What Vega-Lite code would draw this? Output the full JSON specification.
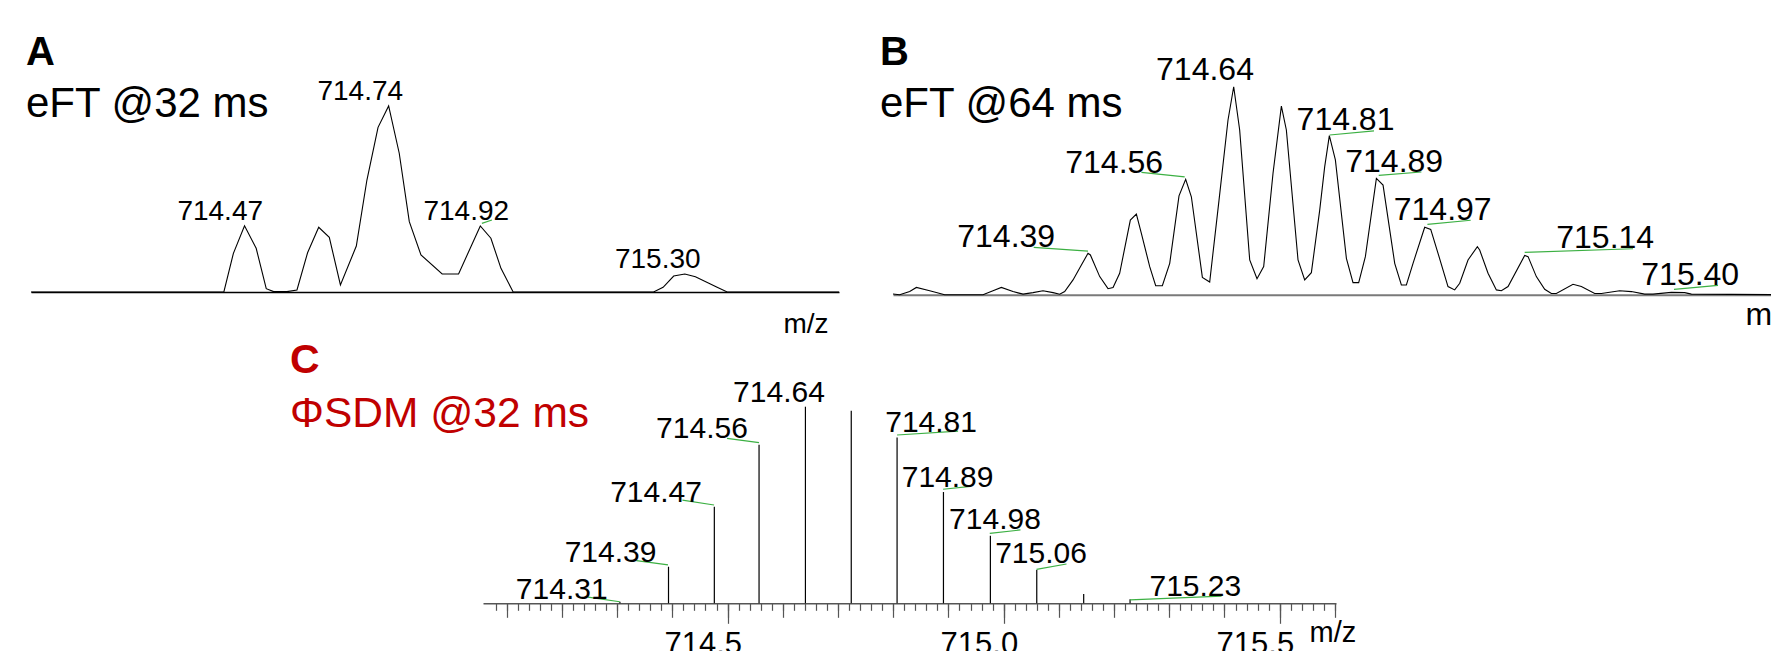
{
  "$schema": "https://vega.github.io/schema/vega-lite/v6.json",
  "background": "white",
  "padding": {"left": 26, "top": 10, "right": 0, "bottom": 0},
  "spacing": 0,
  "config": {"view": {"stroke": null}, "font": "Liberation Sans"},
  "datasets": {
    "a_spec": [
      {"mz": 714.067, "i": 0}, {"mz": 714.431, "i": 0}, {"mz": 714.449, "i": 20.8}, {"mz": 714.470, "i": 35.6},
      {"mz": 714.492, "i": 23.5}, {"mz": 714.511, "i": 1.8}, {"mz": 714.525, "i": 0.2}, {"mz": 714.550, "i": 0.2},
      {"mz": 714.569, "i": 1.1}, {"mz": 714.589, "i": 21.1}, {"mz": 714.610, "i": 34.8}, {"mz": 714.630, "i": 29.4},
      {"mz": 714.651, "i": 3.8}, {"mz": 714.681, "i": 24.7}, {"mz": 714.701, "i": 60.2}, {"mz": 714.722, "i": 88.5},
      {"mz": 714.742, "i": 100}, {"mz": 714.762, "i": 74.6}, {"mz": 714.781, "i": 37.8}, {"mz": 714.803, "i": 19.9},
      {"mz": 714.843, "i": 9.7}, {"mz": 714.874, "i": 9.7}, {"mz": 714.915, "i": 35.5}, {"mz": 714.935, "i": 28.9},
      {"mz": 714.954, "i": 12.7}, {"mz": 714.977, "i": 0}, {"mz": 715.242, "i": 0}, {"mz": 715.260, "i": 2.5},
      {"mz": 715.280, "i": 8.6}, {"mz": 715.301, "i": 9.7}, {"mz": 715.321, "i": 8.2}, {"mz": 715.362, "i": 2.5},
      {"mz": 715.381, "i": 0}, {"mz": 715.592, "i": 0}
    ],
    "a_lab": [
      {"t": "714.47", "mz": 714.4241, "i": 38.7},
      {"t": "714.74", "mz": 714.6884, "i": 103.2},
      {"t": "714.92", "mz": 714.8885, "i": 38.7},
      {"t": "715.30", "mz": 715.2499, "i": 12.7}
    ],
    "a_lead": [
      {"mz": 714.918, "i": 36.9, "mz2": 714.937, "i2": 38.7}
    ],
    "b_spec": [
      {"mz": 714.0526, "i": 0.3}, {"mz": 714.0641, "i": 0}, {"mz": 714.0814, "i": 1.5}, {"mz": 714.0929, "i": 3.5},
      {"mz": 714.1159, "i": 1.9}, {"mz": 714.1417, "i": 0}, {"mz": 714.2078, "i": 0}, {"mz": 714.2250, "i": 1.9},
      {"mz": 714.2394, "i": 3.5}, {"mz": 714.2595, "i": 1.5}, {"mz": 714.2768, "i": 0.3}, {"mz": 714.2940, "i": 1.0},
      {"mz": 714.3112, "i": 1.9}, {"mz": 714.3285, "i": 1.0}, {"mz": 714.3400, "i": 0.2}, {"mz": 714.3486, "i": 1.5},
      {"mz": 714.3630, "i": 7.1}, {"mz": 714.3774, "i": 14.3}, {"mz": 714.3888, "i": 19.9}, {"mz": 714.3929, "i": 19.1},
      {"mz": 714.4090, "i": 8.7}, {"mz": 714.4233, "i": 2.9}, {"mz": 714.4320, "i": 3.5}, {"mz": 714.4434, "i": 10.3},
      {"mz": 714.4618, "i": 35.9}, {"mz": 714.4722, "i": 38.8}, {"mz": 714.4808, "i": 29.5}, {"mz": 714.4952, "i": 13.5},
      {"mz": 714.5055, "i": 4.3}, {"mz": 714.5170, "i": 4.3}, {"mz": 714.5297, "i": 15.1}, {"mz": 714.5457, "i": 47.5},
      {"mz": 714.5572, "i": 55.5}, {"mz": 714.5670, "i": 47.1}, {"mz": 714.5860, "i": 8.3}, {"mz": 714.5986, "i": 6.1},
      {"mz": 714.6147, "i": 45.5}, {"mz": 714.6302, "i": 84.0}, {"mz": 714.6400, "i": 100}, {"mz": 714.6503, "i": 79.2},
      {"mz": 714.6676, "i": 16.7}, {"mz": 714.6802, "i": 7.7}, {"mz": 714.6917, "i": 13.5}, {"mz": 714.7078, "i": 58.4},
      {"mz": 714.7222, "i": 90.7}, {"mz": 714.7308, "i": 79.2}, {"mz": 714.7509, "i": 16.7}, {"mz": 714.7624, "i": 7.1},
      {"mz": 714.7739, "i": 10.6}, {"mz": 714.7883, "i": 40.7}, {"mz": 714.7969, "i": 61.6}, {"mz": 714.8049, "i": 76.5},
      {"mz": 714.8153, "i": 64.8}, {"mz": 714.8343, "i": 17.5}, {"mz": 714.8457, "i": 5.8}, {"mz": 714.8555, "i": 5.8},
      {"mz": 714.8670, "i": 18.3}, {"mz": 714.8860, "i": 55.9}, {"mz": 714.8975, "i": 52.7}, {"mz": 714.9176, "i": 15.1},
      {"mz": 714.9291, "i": 4.7}, {"mz": 714.9377, "i": 4.7}, {"mz": 714.9492, "i": 15.1}, {"mz": 714.9693, "i": 32.4},
      {"mz": 714.9797, "i": 31.4}, {"mz": 714.9923, "i": 19.9}, {"mz": 715.0095, "i": 3.9}, {"mz": 715.0210, "i": 2.3},
      {"mz": 715.0297, "i": 5.5}, {"mz": 715.0440, "i": 16.7}, {"mz": 715.0601, "i": 23.1}, {"mz": 715.0641, "i": 21.5},
      {"mz": 715.0785, "i": 10.3}, {"mz": 715.0929, "i": 2.3}, {"mz": 715.1015, "i": 1.9}, {"mz": 715.1130, "i": 3.9},
      {"mz": 715.1417, "i": 18.9}, {"mz": 715.1475, "i": 18.3}, {"mz": 715.1618, "i": 8.7}, {"mz": 715.1762, "i": 2.6},
      {"mz": 715.1877, "i": 0.6}, {"mz": 715.1963, "i": 0.6}, {"mz": 715.2250, "i": 5.0}, {"mz": 715.2394, "i": 3.9},
      {"mz": 715.2624, "i": 0.6}, {"mz": 715.2739, "i": 0.6}, {"mz": 715.3055, "i": 1.9}, {"mz": 715.3256, "i": 1.5},
      {"mz": 715.3486, "i": 0.3}, {"mz": 715.3630, "i": 0.3}, {"mz": 715.3946, "i": 1.1}, {"mz": 715.4176, "i": 1.0},
      {"mz": 715.4291, "i": 0.3}, {"mz": 715.5905, "i": 0}
    ],
    "b_lab": [
      {"t": "714.39", "mz": 714.2478, "i": 23.1},
      {"t": "714.56", "mz": 714.4340, "i": 58.4},
      {"t": "714.64", "mz": 714.5905, "i": 103.2},
      {"t": "714.81", "mz": 714.8328, "i": 79.2},
      {"t": "714.89", "mz": 714.9167, "i": 59.1},
      {"t": "714.97", "mz": 715.0003, "i": 35.9},
      {"t": "715.14", "mz": 715.2805, "i": 22.3},
      {"t": "715.40", "mz": 715.4271, "i": 4.7}
    ],
    "b_lead": [
      {"mz": 714.2952, "i": 22.8, "mz2": 714.3888, "i2": 21.0},
      {"mz": 714.4809, "i": 58.8, "mz2": 714.5555, "i2": 56.7},
      {"mz": 714.8819, "i": 78.8, "mz2": 714.8055, "i2": 76.8},
      {"mz": 714.9636, "i": 59.0, "mz2": 714.8900, "i2": 57.4},
      {"mz": 715.0486, "i": 35.8, "mz2": 714.9740, "i2": 33.8},
      {"mz": 715.3285, "i": 22.1, "mz2": 715.1417, "i2": 20.4},
      {"mz": 715.4750, "i": 4.5, "mz2": 715.3991, "i2": 2.6}
    ],
    "c_sticks": [
      {"mz": 714.305, "i": 0.8}, {"mz": 714.393, "i": 18.6}, {"mz": 714.476, "i": 49.1}, {"mz": 714.557, "i": 80.7},
      {"mz": 714.641, "i": 100}, {"mz": 714.724, "i": 98.0}, {"mz": 714.807, "i": 84.4}, {"mz": 714.891, "i": 56.6},
      {"mz": 714.976, "i": 34.4}, {"mz": 715.060, "i": 16.9}, {"mz": 715.145, "i": 4.7}, {"mz": 715.229, "i": 2.0}
    ],
    "c_lab": [
      {"t": "714.31", "mz": 714.1996, "i": 2.0},
      {"t": "714.39", "mz": 714.2880, "i": 21.2},
      {"t": "714.47", "mz": 714.3704, "i": 51.7},
      {"t": "714.56", "mz": 714.4536, "i": 83.9},
      {"t": "714.64", "mz": 714.5931, "i": 102.5},
      {"t": "714.81", "mz": 714.8686, "i": 87.3},
      {"t": "714.89", "mz": 714.8985, "i": 59.3},
      {"t": "714.98", "mz": 714.9843, "i": 37.6},
      {"t": "715.06", "mz": 715.0677, "i": 20.3},
      {"t": "715.23", "mz": 715.3472, "i": 3.7}
    ],
    "c_lead": [
      {"mz": 714.2472, "i": 3.1, "mz2": 714.3046, "i2": 0.8},
      {"mz": 714.3349, "i": 21.7, "mz2": 714.3921, "i2": 19.5},
      {"mz": 714.4182, "i": 52.5, "mz2": 714.4755, "i2": 50.0},
      {"mz": 714.4990, "i": 83.9, "mz2": 714.5570, "i2": 81.7},
      {"mz": 714.9175, "i": 87.6, "mz2": 714.8070, "i2": 85.6},
      {"mz": 714.9405, "i": 59.5, "mz2": 714.8903, "i2": 58.0},
      {"mz": 715.0305, "i": 37.3, "mz2": 714.9749, "i2": 35.6},
      {"mz": 715.1139, "i": 20.0, "mz2": 715.0595, "i2": 17.3},
      {"mz": 715.3947, "i": 3.7, "mz2": 715.2291, "i2": 1.7}
    ]
  },
  "vconcat": [
    {
      "hconcat": [
        {
          "width": 808, "height": 282,
          "title": {"text": "A", "subtitle": "eFT @32 ms", "anchor": "start", "frame": "group", "dx": -5, "offset": -115,
            "font": "Liberation Sans", "fontSize": 40, "fontWeight": "bold", "color": "black",
            "subtitleFont": "Liberation Sans", "subtitleFontSize": 42, "subtitleColor": "black", "subtitlePadding": 11},
          "layer": [
            {"data": {"name": "a_spec"}, "mark": {"type": "line", "color": "black", "strokeWidth": 1.1},
             "encoding": {
               "x": {"field": "mz", "type": "quantitative", "scale": {"domain": [714.067, 715.592], "nice": false, "zero": false},
                 "axis": {"title": "m/z", "domainColor": "black", "domainWidth": 1.5, "ticks": false, "labels": false, "grid": false,
                   "titleX": 797, "titleY": 40, "titleAlign": "right", "titleBaseline": "alphabetic", "titleFontSize": 28,
                   "titleFontWeight": "normal", "titleColor": "black", "titleFont": "Liberation Sans"}},
               "y": {"field": "i", "type": "quantitative", "scale": {"domain": [0, 151.6], "nice": false}, "axis": null}}},
            {"data": {"name": "a_lead"}, "mark": {"type": "rule", "color": "#3cb043", "strokeWidth": 1.2},
             "encoding": {"x": {"field": "mz", "type": "quantitative"}, "y": {"field": "i", "type": "quantitative"},
               "x2": {"field": "mz2"}, "y2": {"field": "i2"}}},
            {"data": {"name": "a_lab"}, "mark": {"type": "text", "fontSize": 28, "align": "center", "baseline": "alphabetic", "color": "black", "font": "Liberation Sans"},
             "encoding": {"x": {"field": "mz", "type": "quantitative"}, "y": {"field": "i", "type": "quantitative"}, "text": {"field": "t"}}}
          ]
        },
        {
          "width": 892, "height": 284.7,
          "title": {"text": "B", "subtitle": "eFT @64 ms", "anchor": "start", "frame": "group", "dx": -13, "offset": -115,
            "font": "Liberation Sans", "fontSize": 40, "fontWeight": "bold", "color": "black",
            "subtitleFont": "Liberation Sans", "subtitleFontSize": 42, "subtitleColor": "black", "subtitlePadding": 11},
          "layer": [
            {"data": {"name": "b_spec"}, "mark": {"type": "line", "color": "black", "strokeWidth": 1.1},
             "encoding": {
               "x": {"field": "mz", "type": "quantitative", "scale": {"domain": [714.0526, 715.5905], "nice": false, "zero": false},
                 "axis": {"title": "m/z", "domainColor": "#7a7a7a", "domainWidth": 2, "ticks": false, "labels": false, "grid": false,
                   "titleX": 852, "titleY": 29.5, "titleAlign": "left", "titleBaseline": "alphabetic", "titleFontSize": 32,
                   "titleFontWeight": "normal", "titleColor": "black", "titleFont": "Liberation Sans"}},
               "y": {"field": "i", "type": "quantitative", "scale": {"domain": [0, 136.9], "nice": false}, "axis": null}}},
            {"data": {"name": "b_lead"}, "mark": {"type": "rule", "color": "#3cb043", "strokeWidth": 1.2},
             "encoding": {"x": {"field": "mz", "type": "quantitative"}, "y": {"field": "i", "type": "quantitative"},
               "x2": {"field": "mz2"}, "y2": {"field": "i2"}}},
            {"data": {"name": "b_lab"}, "mark": {"type": "text", "fontSize": 32, "align": "center", "baseline": "alphabetic", "color": "black", "font": "Liberation Sans"},
             "encoding": {"x": {"field": "mz", "type": "quantitative"}, "y": {"field": "i", "type": "quantitative"}, "text": {"field": "t"}}}
          ]
        }
      ],
      "spacing": 54,
      "bounds": "flush"
    },
    {
      "hconcat": [
        {
          "width": 398, "height": 10,
          "data": {"values": []},
          "mark": "point"
        },
        {
          "width": 853, "height": 265.3,
          "title": {"text": "C", "subtitle": "ΦSDM @32 ms", "anchor": "start", "frame": "group", "dx": -193, "offset": -98.5,
            "font": "Liberation Sans", "fontSize": 41, "fontWeight": "bold", "color": "#c00000",
            "subtitleFont": "Liberation Sans", "subtitleFontSize": 42.5, "subtitleColor": "#c00000", "subtitlePadding": 11},
          "resolve": {"axis": {"x": "independent"}},
          "layer": [
            {"data": {"name": "c_sticks"}, "mark": {"type": "rule", "color": "black", "strokeWidth": 1.2},
             "encoding": {
               "x": {"field": "mz", "type": "quantitative", "scale": {"domain": [714.057, 715.602], "nice": false, "zero": false},
                 "axis": {"orient": "bottom", "title": "m/z", "domainColor": "#555555", "domainWidth": 1.5, "grid": false,
                   "values": [714.5, 715.0, 715.5], "tickSize": 20, "tickColor": "#555555", "tickWidth": 1.2,
                   "labelExpr": "format(datum.value, '.1f')", "labelAlign": "right", "labelOffset": 14,
                   "labelOverlap": false, "labelFlush": false, "labelBound": false,
                   "labelFontSize": 31, "labelColor": "black", "labelFont": "Liberation Sans", "labelPadding": 6, "labelBaseline": "top",
                   "titleX": 826, "titleY": 38, "titleAlign": "left", "titleBaseline": "alphabetic", "titleFontSize": 29,
                   "titleFontWeight": "normal", "titleColor": "black", "titleFont": "Liberation Sans"}},
               "y": {"field": "i", "type": "quantitative", "scale": {"domain": [0, 134.95], "nice": false}, "axis": null},
               "y2": {"datum": 0}}},
            {"data": {"name": "c_lead"}, "mark": {"type": "rule", "color": "#3cb043", "strokeWidth": 1.2},
             "encoding": {
               "x": {"field": "mz", "type": "quantitative",
                 "axis": {"orient": "bottom", "title": null, "domain": false, "labels": false, "grid": false,
                   "values": [714.1, 714.2, 714.3, 714.4, 714.5, 714.6, 714.7, 714.8, 714.9, 715.0, 715.1, 715.2, 715.3, 715.4, 715.5, 715.6],
                   "tickSize": 14, "tickColor": "#555555", "tickWidth": 1.2}},
               "y": {"field": "i", "type": "quantitative"},
               "x2": {"field": "mz2"}, "y2": {"field": "i2"}}},
            {"data": {"name": "c_lab"}, "mark": {"type": "text", "fontSize": 30, "align": "center", "baseline": "alphabetic", "color": "black", "font": "Liberation Sans"},
             "encoding": {
               "x": {"field": "mz", "type": "quantitative",
                 "axis": {"orient": "bottom", "title": null, "domain": false, "labels": false, "grid": false,
                   "values": [714.08, 714.10, 714.12, 714.14, 714.16, 714.18, 714.20, 714.22, 714.24, 714.26, 714.28, 714.30, 714.32, 714.34, 714.36, 714.38, 714.40, 714.42, 714.44, 714.46, 714.48, 714.50, 714.52, 714.54, 714.56, 714.58, 714.60, 714.62, 714.64, 714.66, 714.68, 714.70, 714.72, 714.74, 714.76, 714.78, 714.80, 714.82, 714.84, 714.86, 714.88, 714.90, 714.92, 714.94, 714.96, 714.98, 715.00, 715.02, 715.04, 715.06, 715.08, 715.10, 715.12, 715.14, 715.16, 715.18, 715.20, 715.22, 715.24, 715.26, 715.28, 715.30, 715.32, 715.34, 715.36, 715.38, 715.40, 715.42, 715.44, 715.46, 715.48, 715.50, 715.52, 715.54, 715.56, 715.58, 715.60],
                   "tickSize": 7, "tickColor": "#555555", "tickWidth": 1.2}},
               "y": {"field": "i", "type": "quantitative"}, "text": {"field": "t"}}}
          ]
        }
      ],
      "spacing": 54,
      "bounds": "flush"
    }
  ]
}
